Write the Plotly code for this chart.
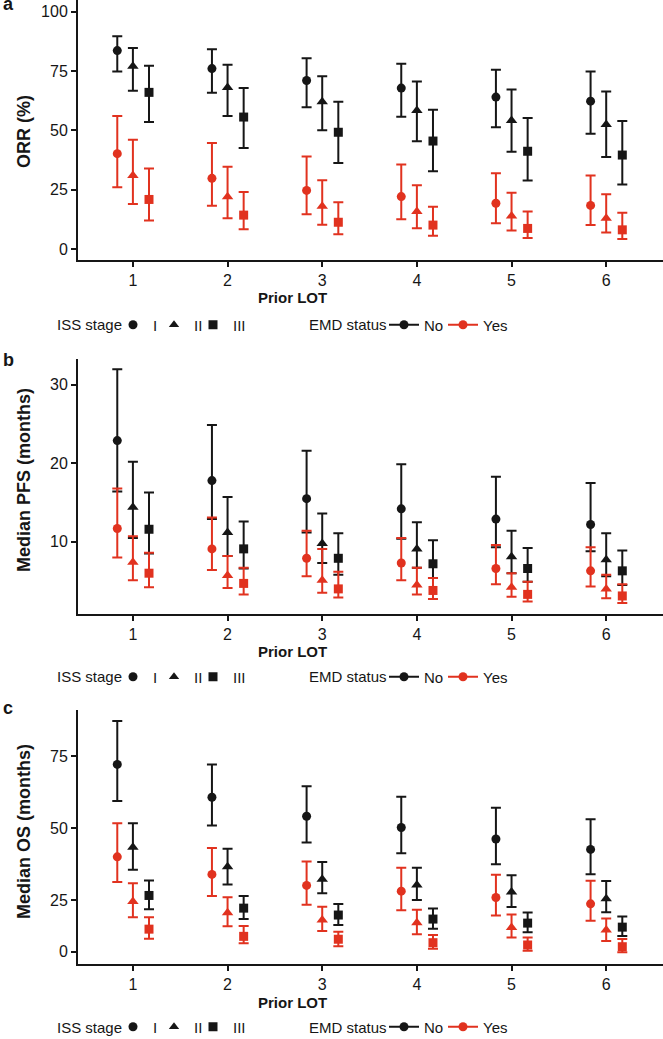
import plotly.graph_objects as go

# ---------------- data ----------------
LOT = [1, 2, 3, 4, 5, 6]
ISS_STAGES = ["I", "II", "III"]
EMD = ["No", "Yes"]

# ORR (%)
ORR_NO_I_VAL = [83.6, 76.0, 71.0, 67.8, 64.0, 62.3]
ORR_NO_I_LO = [74.8, 65.8, 59.7, 55.7, 51.3, 48.6]
ORR_NO_I_HI = [89.6, 84.2, 80.4, 78.0, 75.5, 74.8]
ORR_NO_II_VAL = [77.0, 68.0, 62.0, 58.4, 54.2, 52.5]
ORR_NO_II_LO = [66.7, 56.0, 50.0, 45.4, 41.0, 38.8]
ORR_NO_II_HI = [84.7, 77.6, 72.8, 70.6, 67.2, 66.4]
ORR_NO_III_VAL = [66.0, 55.6, 49.2, 45.5, 41.2, 39.6]
ORR_NO_III_LO = [53.5, 42.6, 36.3, 32.8, 28.9, 27.2]
ORR_NO_III_HI = [77.2, 67.8, 62.0, 58.7, 55.2, 53.9]
ORR_YES_I_VAL = [40.2, 29.8, 24.7, 22.1, 19.3, 18.4]
ORR_YES_I_LO = [26.0, 18.2, 14.7, 12.6, 10.9, 10.1]
ORR_YES_I_HI = [56.0, 44.7, 39.0, 35.6, 31.9, 31.0]
ORR_YES_II_VAL = [31.0, 22.0, 18.0, 15.8, 13.9, 13.0]
ORR_YES_II_LO = [19.0, 13.0, 10.2, 8.8, 7.8, 7.0]
ORR_YES_II_HI = [46.0, 34.7, 29.0, 26.9, 23.7, 23.1]
ORR_YES_III_VAL = [20.9, 14.3, 11.3, 10.1, 8.7, 8.1]
ORR_YES_III_LO = [12.0, 8.3, 6.2, 5.6, 4.7, 4.2]
ORR_YES_III_HI = [33.9, 24.0, 19.7, 17.8, 15.8, 15.3]

# Median PFS (months)
PFS_NO_I_VAL = [22.9, 17.8, 15.5, 14.2, 12.9, 12.2]
PFS_NO_I_LO = [16.4, 12.9, 11.2, 10.4, 9.3, 8.8]
PFS_NO_I_HI = [32.0, 24.9, 21.6, 19.9, 18.3, 17.5]
PFS_NO_II_VAL = [14.4, 11.2, 9.8, 9.1, 8.1, 7.7]
PFS_NO_II_LO = [10.5, 8.2, 7.3, 6.7, 6.0, 5.6]
PFS_NO_II_HI = [20.2, 15.7, 13.6, 12.5, 11.4, 11.1]
PFS_NO_III_VAL = [11.6, 9.1, 7.9, 7.2, 6.6, 6.3]
PFS_NO_III_LO = [8.5, 6.6, 5.8, 5.4, 4.9, 4.5]
PFS_NO_III_HI = [16.3, 12.6, 11.1, 10.2, 9.2, 8.9]
PFS_YES_I_VAL = [11.7, 9.1, 7.9, 7.3, 6.6, 6.3]
PFS_YES_I_LO = [8.0, 6.4, 5.6, 5.1, 4.6, 4.3]
PFS_YES_I_HI = [16.8, 13.1, 11.4, 10.5, 9.6, 9.3]
PFS_YES_II_VAL = [7.4, 5.7, 5.1, 4.5, 4.2, 4.0]
PFS_YES_II_LO = [5.1, 4.1, 3.5, 3.3, 3.0, 2.8]
PFS_YES_II_HI = [10.7, 8.2, 9.1, 6.7, 6.0, 5.8]
PFS_YES_III_VAL = [6.0, 4.7, 4.0, 3.8, 3.3, 3.1]
PFS_YES_III_LO = [4.2, 3.3, 2.9, 2.7, 2.4, 2.2]
PFS_YES_III_HI = [8.6, 6.7, 6.2, 5.4, 4.9, 4.6]

# Median OS (months)
OS_NO_I_VAL = [72.1, 60.7, 54.1, 50.2, 46.2, 42.6]
OS_NO_I_LO = [59.4, 50.9, 45.0, 41.3, 37.4, 34.0]
OS_NO_I_HI = [87.2, 72.1, 64.5, 60.9, 57.1, 53.1]
OS_NO_II_VAL = [43.3, 36.6, 32.2, 30.2, 27.8, 25.5]
OS_NO_II_LO = [35.5, 30.4, 27.4, 25.0, 22.6, 20.8]
OS_NO_II_HI = [51.7, 42.8, 38.2, 36.2, 33.6, 31.6]
OS_NO_III_VAL = [26.6, 22.2, 19.8, 18.4, 17.0, 15.6]
OS_NO_III_LO = [21.8, 18.4, 16.3, 15.0, 13.8, 12.5]
OS_NO_III_HI = [31.8, 26.4, 23.6, 22.1, 20.7, 19.3]
OS_YES_I_VAL = [40.0, 33.9, 30.1, 28.1, 25.9, 23.7]
OS_YES_I_LO = [31.3, 26.4, 23.4, 21.5, 19.6, 17.8]
OS_YES_I_HI = [51.7, 43.1, 38.4, 36.2, 33.8, 31.7]
OS_YES_II_VAL = [24.5, 20.6, 18.1, 17.1, 15.5, 14.6]
OS_YES_II_LO = [19.0, 15.9, 14.3, 13.1, 12.0, 10.8]
OS_YES_II_HI = [30.8, 26.0, 22.7, 21.6, 20.0, 18.6]
OS_YES_III_VAL = [14.9, 12.4, 11.4, 10.2, 9.4, 8.8]
OS_YES_III_LO = [11.6, 10.0, 9.0, 8.1, 7.4, 6.9]
OS_YES_III_HI = [19.0, 16.0, 14.0, 12.9, 12.0, 11.5]

# axis tick labels
ORR_TICKVALS = [0, 25, 50, 75, 100]
ORR_TICKTEXT = ["0", "25", "50", "75", "100"]
PFS_TICKVALS = [10, 20, 30]
PFS_TICKTEXT = ["10", "20", "30"]
OS_TICKVALS = [7.05, 25, 50, 75]
OS_TICKTEXT = ["0", "25", "50", "75"]

# ---------------- style ----------------
BLACK = "#161616"
RED = "#e1321f"
FONT = "Liberation Sans, Arial, sans-serif"
SYMBOLS = {"I": "circle", "II": "triangle-up", "III": "square"}
OFFSETS = {"I": -0.165, "II": 0.0, "III": 0.17}
COLORS = {"No": BLACK, "Yes": RED}
MSIZE = {"I": 9, "II": 10, "III": 9}

# legend layout (pixel centres of symbols in the legend row)
ISS_SYMBOL_PX = {"I": 133, "II": 174, "III": 213}
EMD_SYMBOL_PX = {"No": 404, "Yes": 463}
ISS_TITLE_PX = 55
EMD_TITLE_PX = 307

panels = [
    {
        "ax": "",
        "data": {
            ("No", "I"): (ORR_NO_I_VAL, ORR_NO_I_LO, ORR_NO_I_HI),
            ("No", "II"): (ORR_NO_II_VAL, ORR_NO_II_LO, ORR_NO_II_HI),
            ("No", "III"): (ORR_NO_III_VAL, ORR_NO_III_LO, ORR_NO_III_HI),
            ("Yes", "I"): (ORR_YES_I_VAL, ORR_YES_I_LO, ORR_YES_I_HI),
            ("Yes", "II"): (ORR_YES_II_VAL, ORR_YES_II_LO, ORR_YES_II_HI),
            ("Yes", "III"): (ORR_YES_III_VAL, ORR_YES_III_LO, ORR_YES_III_HI),
        },
        "yrange": [-4.6, 104.9],
        "tickvals": ORR_TICKVALS, "ticktext": ORR_TICKTEXT,
        "ytitle": "ORR (%)", "ytitle_y": 132, "letter": "a", "letter_y": 4,
        "px": (0, 260), "legend_y": 325,
    },
    {
        "ax": "2",
        "data": {
            ("No", "I"): (PFS_NO_I_VAL, PFS_NO_I_LO, PFS_NO_I_HI),
            ("No", "II"): (PFS_NO_II_VAL, PFS_NO_II_LO, PFS_NO_II_HI),
            ("No", "III"): (PFS_NO_III_VAL, PFS_NO_III_LO, PFS_NO_III_HI),
            ("Yes", "I"): (PFS_YES_I_VAL, PFS_YES_I_LO, PFS_YES_I_HI),
            ("Yes", "II"): (PFS_YES_II_VAL, PFS_YES_II_LO, PFS_YES_II_HI),
            ("Yes", "III"): (PFS_YES_III_VAL, PFS_YES_III_LO, PFS_YES_III_HI),
        },
        "yrange": [0.8, 33.3],
        "tickvals": PFS_TICKVALS, "ticktext": PFS_TICKTEXT,
        "ytitle": "Median PFS (months)", "ytitle_y": 480, "letter": "b", "letter_y": 360,
        "px": (359, 614), "legend_y": 677,
    },
    {
        "ax": "3",
        "data": {
            ("No", "I"): (OS_NO_I_VAL, OS_NO_I_LO, OS_NO_I_HI),
            ("No", "II"): (OS_NO_II_VAL, OS_NO_II_LO, OS_NO_II_HI),
            ("No", "III"): (OS_NO_III_VAL, OS_NO_III_LO, OS_NO_III_HI),
            ("Yes", "I"): (OS_YES_I_VAL, OS_YES_I_LO, OS_YES_I_HI),
            ("Yes", "II"): (OS_YES_II_VAL, OS_YES_II_LO, OS_YES_II_HI),
            ("Yes", "III"): (OS_YES_III_VAL, OS_YES_III_LO, OS_YES_III_HI),
        },
        "yrange": [2.8, 91.0],
        "tickvals": OS_TICKVALS, "ticktext": OS_TICKTEXT,
        "ytitle": "Median OS (months)", "ytitle_y": 832, "letter": "c", "letter_y": 708,
        "px": (710, 964), "legend_y": 1027,
    },
]

W, H = 663, 1039
ML = 78
PW = W - ML


def px_to_paper_y(py):
    return (H - py) / H


def px_to_paper_x(px):
    return (px - ML) / PW


fig = go.Figure()
layout = dict(
    width=W, height=H,
    margin=dict(l=ML, r=0, t=0, b=0, pad=0, autoexpand=False),
    paper_bgcolor="white", plot_bgcolor="white",
    font=dict(family=FONT, size=16, color=BLACK),
    showlegend=True,
    annotations=[],
)

legend_counter = [0]


def next_legend():
    legend_counter[0] += 1
    return "legend" if legend_counter[0] == 1 else "legend%d" % legend_counter[0]


for p in panels:
    ax = p["ax"]
    xname, yname = "x" + ax, "y" + ax
    for emd in EMD:
        for st in ISS_STAGES:
            val, lo, hi = p["data"][(emd, st)]
            fig.add_trace(go.Scatter(
                x=[v + OFFSETS[st] for v in LOT], y=val,
                mode="markers",
                marker=dict(symbol=SYMBOLS[st], size=MSIZE[st], color=COLORS[emd], line=dict(width=0)),
                error_y=dict(type="data", symmetric=False,
                             array=[h - v for h, v in zip(hi, val)],
                             arrayminus=[v - l for v, l in zip(val, lo)],
                             color=COLORS[emd], thickness=2, width=5),
                xaxis=xname, yaxis=yname, showlegend=False, hoverinfo="skip",
            ))

    top, bot = p["px"]
    ly = px_to_paper_y(p["legend_y"])
    legend_common = dict(orientation="h", yanchor="middle", y=ly, xanchor="left",
                         bgcolor="rgba(0,0,0,0)", borderwidth=0,
                         font=dict(family=FONT, size=15, color=BLACK),
                         itemclick=False, itemdoubleclick=False)

    # legend entries: one small legend per entry so spacing matches
    for st in ISS_STAGES:
        lg = next_legend()
        fig.add_trace(go.Scatter(
            x=[None], y=[None], mode="markers", name=st,
            marker=dict(symbol=SYMBOLS[st], size=9, color=BLACK),
            xaxis=xname, yaxis=yname, legend=lg, showlegend=True,
        ))
        layout[lg] = dict(legend_common, x=px_to_paper_x(ISS_SYMBOL_PX[st] - 20))
    for emd in EMD:
        lg = next_legend()
        fig.add_trace(go.Scatter(
            x=[None], y=[None], mode="lines+markers", name=emd,
            marker=dict(symbol="circle", size=9, color=COLORS[emd]),
            line=dict(color=COLORS[emd], width=2),
            xaxis=xname, yaxis=yname, legend=lg, showlegend=True,
        ))
        layout[lg] = dict(legend_common, x=px_to_paper_x(EMD_SYMBOL_PX[emd] - 20))

    for title, tx in (("ISS stage", ISS_TITLE_PX), ("EMD status", EMD_TITLE_PX)):
        layout["annotations"].append(dict(
            text=title, xref="paper", yref="paper",
            x=px_to_paper_x(tx), y=ly, xanchor="left", yanchor="middle",
            showarrow=False, font=dict(family=FONT, size=15, color=BLACK)))

    dom = [px_to_paper_y(bot), px_to_paper_y(top)]
    axis_common = dict(showline=True, linecolor=BLACK, linewidth=2,
                       ticks="outside", ticklen=5, tickwidth=2, tickcolor=BLACK,
                       showgrid=False, zeroline=False,
                       tickfont=dict(family=FONT, size=16, color=BLACK))
    layout["xaxis" + ax] = dict(axis_common, domain=[0, 1], anchor=yname,
                                range=[0.42, 6.6], tickvals=LOT,
                                ticktext=[str(v) for v in LOT])
    layout["yaxis" + ax] = dict(axis_common, domain=dom, anchor=xname,
                                range=p["yrange"], tickvals=p["tickvals"],
                                ticktext=p["ticktext"])

    # annotations: panel letter, axis titles
    layout["annotations"].append(dict(
        text="<b>%s</b>" % p["letter"], xref="paper", yref="paper",
        x=px_to_paper_x(8), y=px_to_paper_y(p["letter_y"]), xanchor="center", yanchor="middle",
        showarrow=False, font=dict(family=FONT, size=18, color=BLACK)))
    layout["annotations"].append(dict(
        text="<b>%s</b>" % p["ytitle"], xref="paper", yref="paper", textangle=-90,
        x=px_to_paper_x(24), y=px_to_paper_y(p["ytitle_y"]), xanchor="center", yanchor="middle",
        showarrow=False, font=dict(family=FONT, size=18, color=BLACK)))
    layout["annotations"].append(dict(
        text="<b>Prior LOT</b>", xref="paper", yref="paper",
        x=px_to_paper_x(292.5), y=px_to_paper_y(bot + 38), xanchor="center", yanchor="middle",
        showarrow=False, font=dict(family=FONT, size=15, color=BLACK)))

fig.update_layout(**layout)
fig.write_html("out.html")
